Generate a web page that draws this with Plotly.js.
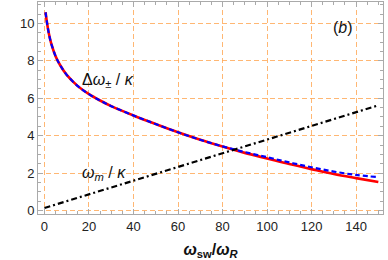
<!DOCTYPE html>
<html>
<head>
<meta charset="utf-8">
<script src="https://cdn.plot.ly/plotly-3.0.1.min.js"></script>
<style>
  html, body { margin: 0; padding: 0; background: #fff; }
  #chart { width: 388px; height: 260px; }
</style>
</head>
<body>
<div id="chart"></div>
<script>
// Splitting curve (solid red = exact, dashed blue = approximation)
const sweepX = [0.5, 1, 2, 3, 5, 7, 10, 15, 20, 25, 30, 40, 50, 60, 70, 80, 90, 100, 110, 120, 130, 140, 150];
const splitExact = [10.6, 10.15, 9.45, 8.95, 8.25, 7.78, 7.25, 6.65, 6.22, 5.88, 5.58, 5.08, 4.62, 4.18, 3.78, 3.42, 3.08, 2.78, 2.48, 2.21, 1.95, 1.73, 1.52];
const splitApprox = [10.6, 10.15, 9.45, 8.95, 8.25, 7.78, 7.25, 6.65, 6.22, 5.88, 5.58, 5.08, 4.62, 4.18, 3.78, 3.43, 3.12, 2.85, 2.57, 2.31, 2.08, 1.9, 1.78];

// Modulation frequency line
const modX = [0, 150];
const modY = [0.13, 5.62];

const xTicks = [0, 20, 40, 60, 80, 100, 120, 140];
const yTicks = [0, 2, 4, 6, 8, 10];

const traces = [
  {
    x: sweepX, y: splitExact, type: 'scatter', mode: 'lines',
    line: { color: '#ff0000', width: 2.6, shape: 'spline' },
    hoverinfo: 'skip'
  },
  {
    x: sweepX, y: splitApprox, type: 'scatter', mode: 'lines',
    line: { color: '#0000ff', width: 2.2, dash: '5px,3px', shape: 'spline' },
    hoverinfo: 'skip'
  },
  {
    x: modX, y: modY, type: 'scatter', mode: 'lines',
    line: { color: '#000000', width: 2.2, dash: '6px,3px,2px,3px' },
    hoverinfo: 'skip'
  }
];

const axisCommon = {
  showline: true,
  linecolor: '#aaaaaa',
  linewidth: 1,
  mirror: 'allticks',
  ticks: 'inside',
  ticklen: 5,
  tickcolor: '#aaaaaa',
  showgrid: true,
  gridcolor: 'rgba(255,170,90,0.85)',
  gridwidth: 1,
  griddash: '5px,3px',
  zeroline: false,
  tickfont: { family: 'Liberation Sans, Arial, sans-serif', size: 13, color: '#222' }
};

const layout = {
  width: 388,
  height: 260,
  margin: { l: 38, r: 5, t: 2, b: 46 },
  paper_bgcolor: '#ffffff',
  plot_bgcolor: '#ffffff',
  showlegend: false,
  xaxis: Object.assign({}, axisCommon, {
    range: [-2.9, 152.1],
    tickvals: xTicks,
    minor: { dtick: 5, ticks: 'inside', ticklen: 3, tickcolor: '#aaaaaa', showgrid: false },
    title: {
      text: '<b><i>ω</i><sub>sw</sub>/<i>ω</i><sub><i>R</i></sub></b>',
      font: { family: 'Liberation Sans, Arial, sans-serif', size: 16, color: '#111' },
      standoff: 14
    }
  }),
  yaxis: Object.assign({}, axisCommon, {
    range: [-0.19, 11.15],
    tickvals: yTicks,
    minor: { dtick: 0.5, ticks: 'inside', ticklen: 3, tickcolor: '#aaaaaa', showgrid: false }
  }),
  annotations: [
    {
      x: 108, y: 80, showarrow: false,
      text: 'Δ<i>ω</i><sub>±</sub> / <i>κ</i>',
      font: { family: 'Liberation Sans, Arial, sans-serif', size: 16, color: '#111' }
    },
    {
      x: 104, y: 173, showarrow: false,
      text: '<i>ω</i><sub><i>m</i></sub> / <i>κ</i>',
      font: { family: 'Liberation Sans, Arial, sans-serif', size: 16, color: '#111' }
    },
    {
      x: 343, y: 28, showarrow: false,
      text: '(<i>b</i>)',
      font: { family: 'Liberation Sans, Arial, sans-serif', size: 16, color: '#111' }
    }
  ]
};

// annotation positions above are in pixels from the top-left; convert to paper coords
(function () {
  const plotW = 388 - layout.margin.l - layout.margin.r;
  const plotH = 260 - layout.margin.t - layout.margin.b;
  layout.annotations.forEach(function (a) {
    const px = a.x, py = a.y;
    a.xref = 'paper';
    a.yref = 'paper';
    a.x = (px - layout.margin.l) / plotW;
    a.y = (260 - layout.margin.b - py) / plotH;
    a.xanchor = 'center';
    a.yanchor = 'middle';
  });
})();

Plotly.newPlot('chart', traces, layout, { displayModeBar: false, staticPlot: true });
</script>
</body>
</html>
